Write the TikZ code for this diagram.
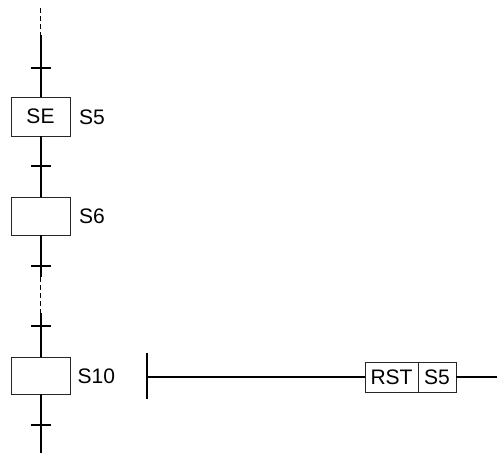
\documentclass[tikz,border=0pt]{standalone}
\usepackage{fontspec}
\setmainfont{Liberation Sans}
\begin{document}
\begin{tikzpicture}[x=1pt,y=-1pt,
  txt/.style={font=\fontsize{21}{25}\selectfont},
  stepbox/.style={draw=black!85, line width=0.9pt, minimum width=59pt, minimum height=38pt, inner sep=0pt, txt},
  lbl/.style={anchor=west, inner sep=0pt, txt},
  flow/.style={line width=2pt},
  dashflow/.style={line width=1pt, dash pattern=on 5pt off 3pt},
  tickmark/.style={line width=2pt},
  rung/.style={line width=1.6pt},
  cmdbox/.style={draw=black!85, line width=0.9pt, minimum height=30pt, inner sep=0pt, txt}]
\useasboundingbox (0,0) rectangle (497,454);
% steps
\node[stepbox, minimum height=39pt] (s5) at (40.5,116.5) {SE};
\node[lbl] (l5) at (79,117) {S5};
\node[stepbox] (s6) at (40.5,216) {};
\node[lbl] (l6) at (79,216) {S6};
\node[stepbox, minimum height=37pt] (s10) at (40.5,375.5) {};
\node[lbl] (l10) at (77.5,376) {S10};
% flow line
\coordinate (top) at (40.5,8);
\coordinate (a) at (40.5,35);
\coordinate (b) at (40.5,277);
\coordinate (c) at (40.5,313);
\coordinate (bot) at (40.5,453);
\draw[dashflow] (top) -- (a);
\draw[flow] (a) -- (s5.north);
\draw[flow] (s5.south) -- (s6.north);
\draw[flow] (s6.south) -- (b);
\draw[dashflow] (b) -- (c);
\draw[flow] (c) -- (s10.north);
\draw[flow] (s10.south) -- (bot);
% transitions
\foreach \n/\y in {t1/68, t2/166, t3/266, t4/326, t5/425} {
  \coordinate (\n) at (40.5,\y);
  \draw[tickmark] ([xshift=-10pt]\n) -- ([xshift=10pt]\n);
}
% ladder rung
\coordinate (railtop) at (146.5,353);
\coordinate (railbot) at (146.5,399);
\coordinate (railmid) at (146.5,377);
\coordinate (rend) at (497,377);
\draw[flow] (railtop) -- (railbot);
\node[cmdbox, minimum width=53pt] (rst) at (391.5,377) {RST};
\node[cmdbox, minimum width=38pt] (sv) at (437,377) {S5};
\draw[rung] (railmid) -- (rst.west);
\draw[rung] (sv.east) -- (rend);
\end{tikzpicture}
\end{document}
